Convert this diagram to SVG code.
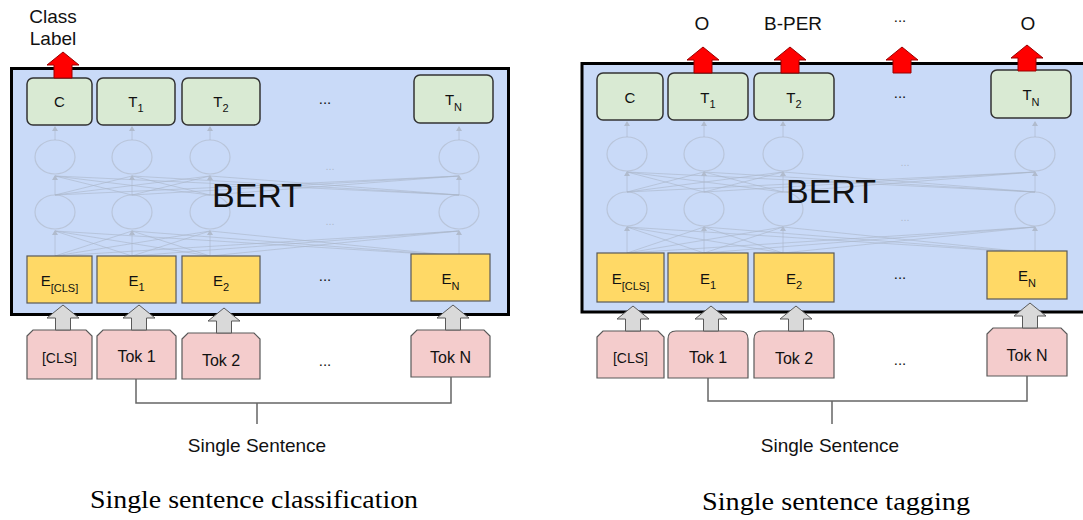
<svg xmlns="http://www.w3.org/2000/svg" xmlns:xlink="http://www.w3.org/1999/xlink" width="1083" height="520" viewBox="0 0 1083 520">
<style>
.bert{fill:#c9daf8;stroke:#000;stroke-width:3}
.tbox{fill:#d9ead3;stroke:#333;stroke-width:1.5}
.ebox{fill:#ffd966;stroke:#595959;stroke-width:1.2}
.tok{fill:#f4cccc;stroke:#595959;stroke-width:1.2}
.net{fill:none;stroke:#aab5c8;stroke-width:1;opacity:0.6}
.cir{fill:none;stroke:#b9c5da;stroke-width:1.2}
.ah{fill:#b0bbcd}
.conn{fill:none;stroke:#666;stroke-width:1.5}
text{font-family:"Liberation Sans",Arial,sans-serif;fill:#111}
.lbl{font-size:15px;text-anchor:middle}
.sub{font-size:11px}
.big{font-size:34px;text-anchor:middle}
.top{font-size:19px;text-anchor:middle}
.ss{font-size:19px;text-anchor:middle}
.cap{font-family:"Liberation Serif","Times New Roman",serif;font-size:25px;text-anchor:middle;fill:#000}
.dots{font-size:15px;text-anchor:middle}
.fdots{font-size:11px;text-anchor:middle;fill:#b0bbcd}
</style>
<defs>
<path id="red" d="M0,0 L16,13 L9,13 L9,26 L-9,26 L-9,13 L-16,13 Z" fill="#ff0000" stroke="#990000" stroke-width="1"/>
<path id="gray" d="M0,0 L16,13 L7.5,13 L7.5,25 L-7.5,25 L-7.5,13 L-16,13 Z" fill="#d9d9d9" stroke="#595959" stroke-width="1"/>
</defs>

<!-- LEFT PANEL -->
<g id="bert-left">
<rect class="bert" x="11.5" y="68.5" width="497" height="246"/>
<g class="network">
<ellipse class="cir" cx="55" cy="157" rx="20" ry="17"/><ellipse class="cir" cx="132" cy="157" rx="20" ry="17"/><ellipse class="cir" cx="210" cy="157" rx="20" ry="17"/><ellipse class="cir" cx="459" cy="157" rx="20" ry="17"/>
<ellipse class="cir" cx="55" cy="212" rx="20" ry="17"/><ellipse class="cir" cx="132" cy="212" rx="20" ry="17"/><ellipse class="cir" cx="210" cy="212" rx="20" ry="17"/><ellipse class="cir" cx="459" cy="212" rx="20" ry="17"/>
<path class="net" d="M55 256L55 231M55 256L132 231M55 256L210 231M55 256L459 231M132 256L55 231M132 256L132 231M132 256L210 231M132 256L459 231M210 256L55 231M210 256L132 231M210 256L210 231M210 256L459 231M459 256L55 231M459 256L132 231M459 256L210 231M459 256L459 231"/>
<path class="net" d="M55 195L55 176M55 195L132 176M55 195L210 176M55 195L459 176M132 195L55 176M132 195L132 176M132 195L210 176M132 195L459 176M210 195L55 176M210 195L132 176M210 195L210 176M210 195L459 176M459 195L55 176M459 195L132 176M459 195L210 176M459 195L459 176"/>
<path class="net" d="M55 140L55 127M132 140L132 127M210 140L210 127M459 140L459 127"/>
<path class="ah" d="M55 230l-3 5h6zM132 230l-3 5h6zM210 230l-3 5h6zM459 230l-3 5h6zM55 175l-3 5h6zM132 175l-3 5h6zM210 175l-3 5h6zM459 175l-3 5h6zM55 126l-3 5h6zM132 126l-3 5h6zM210 126l-3 5h6zM459 126l-3 5h6z"/>
<text class="fdots" x="330" y="170">...</text>
<text class="fdots" x="330" y="225">...</text>
</g>
<text class="big" x="257" y="207">BERT</text>
</g>
<g id="L-C"><rect class="tbox" x="27" y="78" width="65" height="47" rx="6"/><text class="lbl" x="59.5" y="107">C</text></g>
<g id="L-T1"><rect class="tbox" x="97" y="78" width="78" height="47" rx="6"/><text class="lbl" x="136" y="107">T<tspan class="sub" dy="5">1</tspan></text></g>
<g id="L-T2"><rect class="tbox" x="182" y="78" width="78" height="47" rx="6"/><text class="lbl" x="221" y="107">T<tspan class="sub" dy="5">2</tspan></text></g>
<g id="L-Tdots"><text class="dots" x="325" y="104">...</text></g>
<g id="L-TN"><rect class="tbox" x="414" y="75" width="79" height="48" rx="6"/><text class="lbl" x="453.5" y="105">T<tspan class="sub" dy="6">N</tspan></text></g>

<g id="L-ECLS"><rect class="ebox" x="27" y="256" width="65" height="47"/><text class="lbl" x="59.5" y="286">E<tspan class="sub" dy="6">[CLS]</tspan></text></g>
<g id="L-E1"><rect class="ebox" x="97" y="256" width="79" height="47"/><text class="lbl" x="136.5" y="286">E<tspan class="sub" dy="5">1</tspan></text></g>
<g id="L-E2"><rect class="ebox" x="182" y="256" width="78" height="47"/><text class="lbl" x="221" y="286">E<tspan class="sub" dy="5">2</tspan></text></g>
<g id="L-Edots"><text class="dots" x="325" y="281">...</text></g>
<g id="L-EN"><rect class="ebox" x="411" y="254" width="79" height="47"/><text class="lbl" x="450.5" y="284">E<tspan class="sub" dy="6">N</tspan></text></g>

<g id="L-TokCLS"><path class="tok" d="M27 336L33 330L86 330L92 336L92 379L27 379Z"/><text class="lbl" x="59.5" y="363" style="font-size:14px">[CLS]</text></g>
<g id="L-Tok1"><path class="tok" d="M97 336L103 330L170 330L176 336L176 379L97 379Z"/><text class="lbl" x="136.5" y="362" style="font-size:16px">Tok 1</text></g>
<g id="L-Tok2"><path class="tok" d="M182 339L188 333L254 333L260 339L260 379L182 379Z"/><text class="lbl" x="221" y="366" style="font-size:16px">Tok 2</text></g>
<g id="L-Tokdots"><text class="dots" x="325" y="366">...</text></g>
<g id="L-TokN"><path class="tok" d="M411 336L417 330L484 330L490 336L490 377L411 377Z"/><text class="lbl" x="450.5" y="363" style="font-size:16px">Tok N</text></g>

<g id="L-arrows">
<use xlink:href="#red" x="63" y="52"/>
<use xlink:href="#gray" x="63" y="305"/>
<use xlink:href="#gray" x="139" y="305"/>
<use xlink:href="#gray" x="224" y="308"/>
<use xlink:href="#gray" x="453" y="305"/>
</g>
<g id="L-connectors"><path class="conn" d="M136 379V403H451V377M257 403V424"/></g>
<g id="L-labels">
<text class="top" x="53" y="23">Class</text>
<text class="top" x="53" y="45">Label</text>
<text class="ss" x="257" y="452">Single Sentence</text>
<text class="cap" x="254" y="508" textLength="328" lengthAdjust="spacingAndGlyphs">Single sentence classification</text>
</g>

<!-- RIGHT PANEL -->
<g id="bert-right">
<rect class="bert" x="582" y="63.5" width="510" height="248.5"/>
<g class="network">
<ellipse class="cir" cx="627" cy="154" rx="20" ry="17"/><ellipse class="cir" cx="704" cy="154" rx="20" ry="17"/><ellipse class="cir" cx="783" cy="154" rx="20" ry="17"/><ellipse class="cir" cx="1035" cy="154" rx="20" ry="17"/>
<ellipse class="cir" cx="627" cy="209" rx="20" ry="17"/><ellipse class="cir" cx="704" cy="209" rx="20" ry="17"/><ellipse class="cir" cx="783" cy="209" rx="20" ry="17"/><ellipse class="cir" cx="1035" cy="209" rx="20" ry="17"/>
<path class="net" d="M627 253L627 227M627 253L704 227M627 253L783 227M627 253L1035 227M704 253L627 227M704 253L704 227M704 253L783 227M704 253L1035 227M783 253L627 227M783 253L704 227M783 253L783 227M783 253L1035 227M1035 253L627 227M1035 253L704 227M1035 253L783 227M1035 253L1035 227"/>
<path class="net" d="M627 192L627 172M627 192L704 172M627 192L783 172M627 192L1035 172M704 192L627 172M704 192L704 172M704 192L783 172M704 192L1035 172M783 192L627 172M783 192L704 172M783 192L783 172M783 192L1035 172M1035 192L627 172M1035 192L704 172M1035 192L783 172M1035 192L1035 172"/>
<path class="net" d="M627 137L627 122M704 137L704 122M783 137L783 122M1035 137L1035 122"/>
<path class="ah" d="M627 226l-3 5h6zM704 226l-3 5h6zM783 226l-3 5h6zM1035 226l-3 5h6zM627 171l-3 5h6zM704 171l-3 5h6zM783 171l-3 5h6zM1035 171l-3 5h6zM627 121l-3 5h6zM704 121l-3 5h6zM783 121l-3 5h6zM1035 121l-3 5h6z"/>
<text class="fdots" x="905" y="166">...</text>
<text class="fdots" x="905" y="221">...</text>
</g>
<text class="big" x="831" y="203">BERT</text>
</g>
<g id="R-C"><rect class="tbox" x="597" y="73" width="66" height="47" rx="6"/><text class="lbl" x="630" y="103">C</text></g>
<g id="R-T1"><rect class="tbox" x="668" y="73" width="80" height="47" rx="6"/><text class="lbl" x="708" y="103">T<tspan class="sub" dy="5">1</tspan></text></g>
<g id="R-T2"><rect class="tbox" x="754" y="73" width="80" height="47" rx="6"/><text class="lbl" x="794" y="103">T<tspan class="sub" dy="5">2</tspan></text></g>
<g id="R-Tdots"><text class="dots" x="900" y="98">...</text></g>
<g id="R-TN"><rect class="tbox" x="991" y="70" width="80" height="48" rx="6"/><text class="lbl" x="1031" y="100">T<tspan class="sub" dy="6">N</tspan></text></g>

<g id="R-ECLS"><rect class="ebox" x="597" y="253" width="67" height="49"/><text class="lbl" x="630.5" y="284">E<tspan class="sub" dy="6">[CLS]</tspan></text></g>
<g id="R-E1"><rect class="ebox" x="668" y="253" width="80" height="49"/><text class="lbl" x="708" y="284">E<tspan class="sub" dy="5">1</tspan></text></g>
<g id="R-E2"><rect class="ebox" x="754" y="253" width="80" height="49"/><text class="lbl" x="794" y="284">E<tspan class="sub" dy="5">2</tspan></text></g>
<g id="R-Edots"><text class="dots" x="900" y="279">...</text></g>
<g id="R-EN"><rect class="ebox" x="987" y="251" width="80" height="48"/><text class="lbl" x="1027" y="281">E<tspan class="sub" dy="6">N</tspan></text></g>

<g id="R-TokCLS"><path class="tok" d="M597 337L603 331L658 331L664 337L664 378L597 378Z"/><text class="lbl" x="630.5" y="363" style="font-size:14px">[CLS]</text></g>
<g id="R-Tok1"><path class="tok" d="M668 378L668 339Q668 331 676 331L740 331Q748 331 748 339L748 378Z"/><text class="lbl" x="708" y="363" style="font-size:16px">Tok 1</text></g>
<g id="R-Tok2"><path class="tok" d="M754 378L754 339Q754 331 762 331L826 331Q834 331 834 339L834 378Z"/><text class="lbl" x="794" y="364" style="font-size:16px">Tok 2</text></g>
<g id="R-Tokdots"><text class="dots" x="900" y="365">...</text></g>
<g id="R-TokN"><path class="tok" d="M987 334L993 328L1061 328L1067 334L1067 376L987 376Z"/><text class="lbl" x="1027" y="361" style="font-size:16px">Tok N</text></g>

<g id="R-arrows">
<use xlink:href="#red" x="703" y="47"/>
<use xlink:href="#red" x="790" y="47"/>
<use xlink:href="#red" x="902" y="47"/>
<use xlink:href="#red" x="1027" y="45"/>
<use xlink:href="#gray" x="633" y="306"/>
<use xlink:href="#gray" x="711" y="306"/>
<use xlink:href="#gray" x="796" y="306"/>
<use xlink:href="#gray" x="1030" y="303"/>
</g>
<g id="R-connectors"><path class="conn" d="M708 378V401H1027V376M832 401V424"/></g>
<g id="R-labels">
<text class="top" x="702" y="30">O</text>
<text class="top" x="793" y="30">B-PER</text>
<text class="dots" x="900" y="22">...</text>
<text class="top" x="1028" y="30">O</text>
<text class="ss" x="830" y="452">Single Sentence</text>
<text class="cap" x="836" y="510" textLength="268" lengthAdjust="spacingAndGlyphs">Single sentence tagging</text>
</g>
</svg>
